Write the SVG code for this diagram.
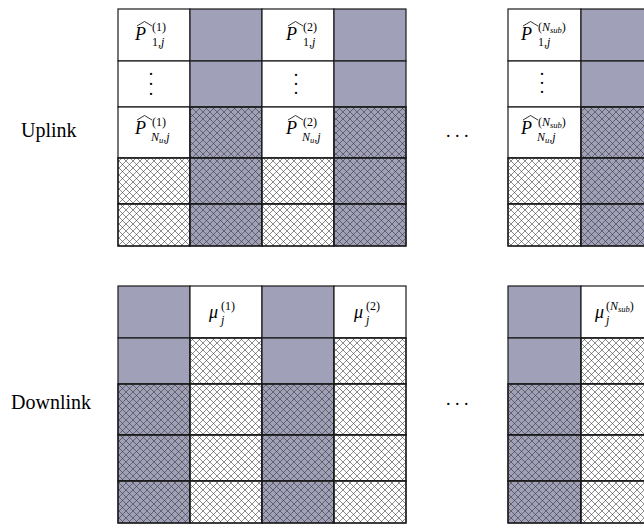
<svg xmlns="http://www.w3.org/2000/svg" width="644" height="525" viewBox="0 0 644 525">
<defs>
<pattern id="hx" patternUnits="userSpaceOnUse" width="7" height="7">
<path d="M0,0 L7,7 M7,0 L0,7" stroke="#2e2e2e" stroke-width="0.55" fill="none"/>
</pattern>
</defs>
<style>
.w{fill:#fff;stroke:#1a1a1a;stroke-width:1.2}
.g{fill:#a0a0b8;stroke:#1a1a1a;stroke-width:1.2}
.h{fill:url(#hx);stroke:#1a1a1a;stroke-width:1.2}
.lbl{font-family:"Liberation Serif","Times New Roman",serif;font-size:20px;fill:#000}
.m{font-family:"Liberation Serif","Times New Roman",serif;font-style:italic;font-size:18px;fill:#000}
.s{font-family:"Liberation Serif","Times New Roman",serif;font-size:12px;fill:#000}
.si{font-family:"Liberation Serif","Times New Roman",serif;font-style:italic;font-size:12px;fill:#000}
.ss{font-family:"Liberation Serif","Times New Roman",serif;font-style:italic;font-size:8.5px;fill:#000}
.dots{font-family:"Liberation Serif","Times New Roman",serif;font-size:18px;fill:#000}
.hat{fill:none;stroke:#000;stroke-width:0.8}
</style>

<text class="lbl" x="21" y="137">Uplink</text>
<text class="lbl" x="11" y="409">Downlink</text>
<text class="dots" x="446 455 464" y="137">...</text>
<text class="dots" x="446 455 464" y="405">...</text>

<!-- Uplink block 1 -->
<g id="ul-1">
<rect class="w" x="118" y="9" width="72" height="52"/>
<rect class="w" x="118" y="61" width="72" height="46"/>
<rect class="w" x="118" y="107" width="72" height="51"/>
<rect class="w" x="118" y="158" width="72" height="46"/><rect class="h" x="118" y="158" width="72" height="46"/>
<rect class="w" x="118" y="204" width="72" height="42"/><rect class="h" x="118" y="204" width="72" height="42"/>
<rect class="g" x="190" y="9" width="72" height="52"/>
<rect class="g" x="190" y="61" width="72" height="46"/>
<rect class="g" x="190" y="107" width="72" height="51"/><rect class="h" x="190" y="107" width="72" height="51"/>
<rect class="g" x="190" y="158" width="72" height="46"/><rect class="h" x="190" y="158" width="72" height="46"/>
<rect class="g" x="190" y="204" width="72" height="42"/><rect class="h" x="190" y="204" width="72" height="42"/>
<polyline class="hat" points="137,26 144.5,21.5 152,26"/>
<text class="m" x="135" y="40">P</text><text class="s" x="152" y="31">(1)</text><text class="s" x="152" y="46">1,<tspan class="si">j</tspan></text>
<text class="dots" x="151 151 151" y="75 85 95" text-anchor="middle">...</text>
<polyline class="hat" points="137,120 144.5,115.5 152,120"/>
<text class="m" x="135" y="134">P</text><text class="s" x="152" y="126">(1)</text><text class="si" x="151" y="141">N<tspan class="ss" dy="2">u</tspan><tspan class="s" dy="-2">,</tspan>j</text>
</g>

<!-- Uplink block 2 -->
<g id="ul-2">
<rect class="w" x="262" y="9" width="72" height="52"/>
<rect class="w" x="262" y="61" width="72" height="46"/>
<rect class="w" x="262" y="107" width="72" height="51"/>
<rect class="w" x="262" y="158" width="72" height="46"/><rect class="h" x="262" y="158" width="72" height="46"/>
<rect class="w" x="262" y="204" width="72" height="42"/><rect class="h" x="262" y="204" width="72" height="42"/>
<rect class="g" x="334" y="9" width="72" height="52"/>
<rect class="g" x="334" y="61" width="72" height="46"/>
<rect class="g" x="334" y="107" width="72" height="51"/><rect class="h" x="334" y="107" width="72" height="51"/>
<rect class="g" x="334" y="158" width="72" height="46"/><rect class="h" x="334" y="158" width="72" height="46"/>
<rect class="g" x="334" y="204" width="72" height="42"/><rect class="h" x="334" y="204" width="72" height="42"/>
<polyline class="hat" points="288,26 295.5,21.5 303,26"/>
<text class="m" x="286" y="40">P</text><text class="s" x="303" y="31">(2)</text><text class="s" x="303" y="46">1,<tspan class="si">j</tspan></text>
<text class="dots" x="296 296 296" y="76 85 94" text-anchor="middle">...</text>
<polyline class="hat" points="288,120 295.5,115.5 303,120"/>
<text class="m" x="286" y="134">P</text><text class="s" x="303" y="126">(2)</text><text class="si" x="302" y="141">N<tspan class="ss" dy="2">u</tspan><tspan class="s" dy="-2">,</tspan>j</text>
</g>

<!-- Uplink block N_sub -->
<g id="ul-nsub">
<rect class="w" x="508" y="9" width="73" height="52"/>
<rect class="w" x="508" y="61" width="73" height="46"/>
<rect class="w" x="508" y="107" width="73" height="51"/>
<rect class="w" x="508" y="158" width="73" height="46"/><rect class="h" x="508" y="158" width="73" height="46"/>
<rect class="w" x="508" y="204" width="73" height="42"/><rect class="h" x="508" y="204" width="73" height="42"/>
<rect class="g" x="581" y="9" width="73" height="52"/>
<rect class="g" x="581" y="61" width="73" height="46"/>
<rect class="g" x="581" y="107" width="73" height="51"/><rect class="h" x="581" y="107" width="73" height="51"/>
<rect class="g" x="581" y="158" width="73" height="46"/><rect class="h" x="581" y="158" width="73" height="46"/>
<rect class="g" x="581" y="204" width="73" height="42"/><rect class="h" x="581" y="204" width="73" height="42"/>
<polyline class="hat" points="523,26 530.5,21.5 538,26"/>
<text class="m" x="521" y="40">P</text><text class="s" x="538" y="31">(<tspan class="si">N</tspan><tspan class="ss" dy="2">sub</tspan><tspan dy="-2">)</tspan></text><text class="s" x="538" y="46">1,<tspan class="si">j</tspan></text>
<text class="dots" x="542 542 542" y="75 84 93" text-anchor="middle">...</text>
<polyline class="hat" points="523,120 530.5,115.5 538,120"/>
<text class="m" x="521" y="134">P</text><text class="s" x="538" y="126">(<tspan class="si">N</tspan><tspan class="ss" dy="2">sub</tspan><tspan dy="-2">)</tspan></text><text class="si" x="537" y="141">N<tspan class="ss" dy="2">u</tspan><tspan class="s" dy="-2">,</tspan>j</text>
</g>

<!-- Downlink block 1 -->
<g id="dl-1">
<rect class="g" x="118" y="286" width="72" height="52"/>
<rect class="g" x="118" y="338" width="72" height="46"/>
<rect class="g" x="118" y="384" width="72" height="51"/><rect class="h" x="118" y="384" width="72" height="51"/>
<rect class="g" x="118" y="435" width="72" height="46"/><rect class="h" x="118" y="435" width="72" height="46"/>
<rect class="g" x="118" y="481" width="72" height="42"/><rect class="h" x="118" y="481" width="72" height="42"/>
<rect class="w" x="190" y="286" width="72" height="52"/>
<rect class="w" x="190" y="338" width="72" height="46"/><rect class="h" x="190" y="338" width="72" height="46"/>
<rect class="w" x="190" y="384" width="72" height="51"/><rect class="h" x="190" y="384" width="72" height="51"/>
<rect class="w" x="190" y="435" width="72" height="46"/><rect class="h" x="190" y="435" width="72" height="46"/>
<rect class="w" x="190" y="481" width="72" height="42"/><rect class="h" x="190" y="481" width="72" height="42"/>
<text class="m" x="209" y="318">μ</text><text class="s" x="221" y="310">(1)</text><text class="si" x="221" y="324">j</text>
</g>

<!-- Downlink block 2 -->
<g id="dl-2">
<rect class="g" x="262" y="286" width="72" height="52"/>
<rect class="g" x="262" y="338" width="72" height="46"/>
<rect class="g" x="262" y="384" width="72" height="51"/><rect class="h" x="262" y="384" width="72" height="51"/>
<rect class="g" x="262" y="435" width="72" height="46"/><rect class="h" x="262" y="435" width="72" height="46"/>
<rect class="g" x="262" y="481" width="72" height="42"/><rect class="h" x="262" y="481" width="72" height="42"/>
<rect class="w" x="334" y="286" width="72" height="52"/>
<rect class="w" x="334" y="338" width="72" height="46"/><rect class="h" x="334" y="338" width="72" height="46"/>
<rect class="w" x="334" y="384" width="72" height="51"/><rect class="h" x="334" y="384" width="72" height="51"/>
<rect class="w" x="334" y="435" width="72" height="46"/><rect class="h" x="334" y="435" width="72" height="46"/>
<rect class="w" x="334" y="481" width="72" height="42"/><rect class="h" x="334" y="481" width="72" height="42"/>
<text class="m" x="354" y="318">μ</text><text class="s" x="366" y="310">(2)</text><text class="si" x="366" y="324">j</text>
</g>

<!-- Downlink block N_sub -->
<g id="dl-nsub">
<rect class="g" x="508" y="286" width="73" height="52"/>
<rect class="g" x="508" y="338" width="73" height="46"/>
<rect class="g" x="508" y="384" width="73" height="51"/><rect class="h" x="508" y="384" width="73" height="51"/>
<rect class="g" x="508" y="435" width="73" height="46"/><rect class="h" x="508" y="435" width="73" height="46"/>
<rect class="g" x="508" y="481" width="73" height="42"/><rect class="h" x="508" y="481" width="73" height="42"/>
<rect class="w" x="581" y="286" width="73" height="52"/>
<rect class="w" x="581" y="338" width="73" height="46"/><rect class="h" x="581" y="338" width="73" height="46"/>
<rect class="w" x="581" y="384" width="73" height="51"/><rect class="h" x="581" y="384" width="73" height="51"/>
<rect class="w" x="581" y="435" width="73" height="46"/><rect class="h" x="581" y="435" width="73" height="46"/>
<rect class="w" x="581" y="481" width="73" height="42"/><rect class="h" x="581" y="481" width="73" height="42"/>
<text class="m" x="595" y="318">μ</text><text class="s" x="606" y="310">(<tspan class="si">N</tspan><tspan class="ss" dy="2">sub</tspan><tspan dy="-2">)</tspan></text><text class="si" x="606" y="324">j</text>
</g>
</svg>
